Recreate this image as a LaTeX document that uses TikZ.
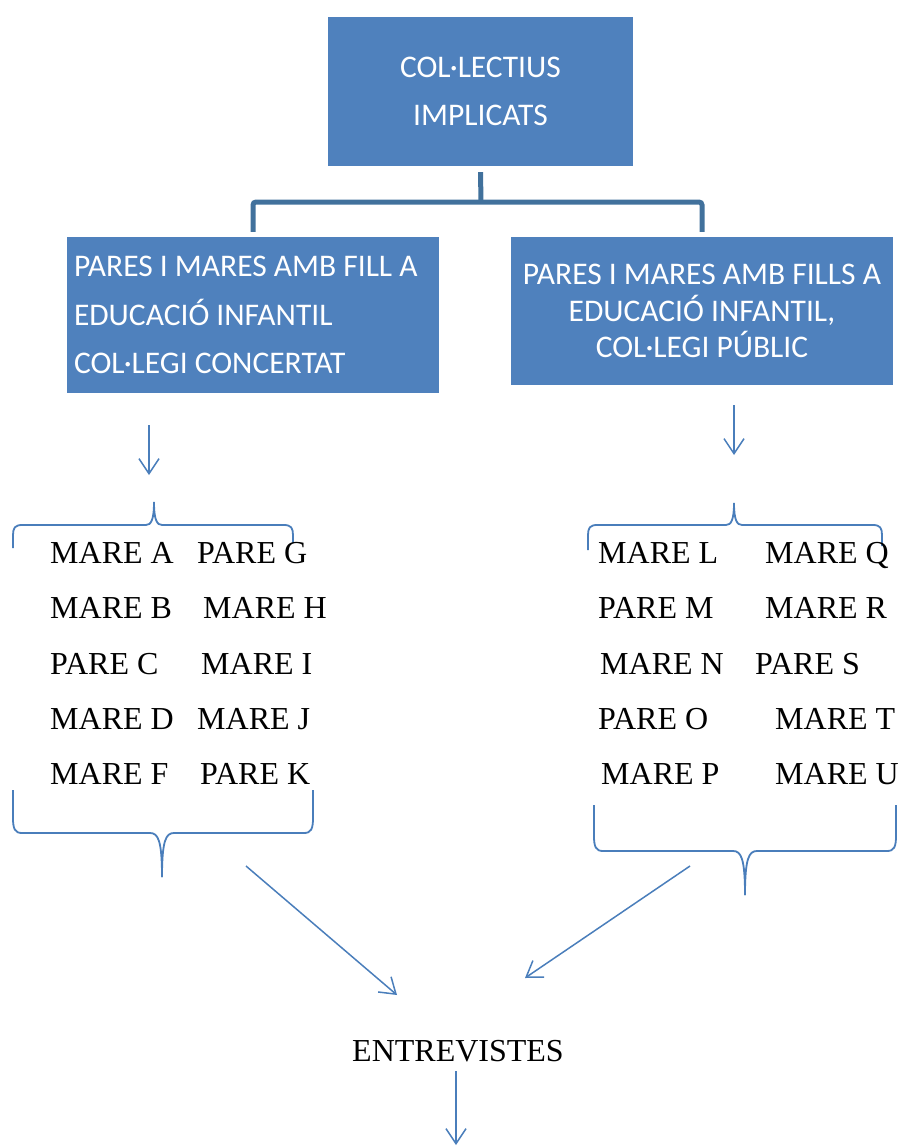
\documentclass[tikz,border=0pt]{standalone}
\usepackage{fontspec}
\setmainfont{Liberation Serif}
\newfontfamily\boxfont{Carlito}
\usetikzlibrary{arrows.meta}
\definecolor{boxblue}{HTML}{4F81BD}
\definecolor{linkblue}{HTML}{41719C}
\definecolor{arrowblue}{HTML}{4A7EBB}

\begin{document}
\begin{tikzpicture}[x=1pt, y=-1pt,
    box/.style={fill=boxblue, text=white, inner sep=0pt},
    conn/.style={draw=linkblue, line width=5pt, rounded corners=3pt},
    arr/.style={draw=arrowblue, line width=1.5pt, -{Straight Barb[length=15pt, width=20pt]}},
    brace/.style={draw=arrowblue, line width=1.8pt},
    item/.style={anchor=base west, inner sep=0pt, font=\fontsize{32}{38}\selectfont}]
    \useasboundingbox (0,0) rectangle (898,1146);

    % boxes
    \node[box, minimum width=305pt, minimum height=149pt, align=center,
          font=\boxfont\fontsize{31.5}{48}\selectfont] (top) at (480.5,91.5)
          {COL·LECTIUS\\IMPLICATS};
    \node[box, minimum width=372pt, minimum height=156pt] (lbox) at (253,315) {};
    \node[inner sep=0pt, text=white, anchor=west, align=left,
          font=\boxfont\fontsize{31.5}{48.3}\selectfont] (ltext) at ([xshift=7pt]lbox.west)
          {PARES I MARES AMB FILL A\\EDUCACIÓ INFANTIL\\COL·LEGI CONCERTAT};
    \node[box, minimum width=382pt, minimum height=148pt, align=center,
          font=\boxfont\fontsize{31.5}{36.5}\selectfont] (rbox) at (702,311)
          {PARES I MARES AMB FILLS A\\EDUCACIÓ INFANTIL,\\COL·LEGI PÚBLIC};

    % connector
    \coordinate (hub) at (481,202);
    \draw[conn] ([yshift=-6pt]top.south) -- (hub);
    \draw[conn] ([yshift=5pt]lbox.north) |- (hub) -| ([yshift=5pt]rbox.north);

    % arrows below the boxes
    \coordinate (la1) at (149,425);
    \coordinate (la2) at (149,475);
    \coordinate (ra1) at (734,405);
    \coordinate (ra2) at (734,455);
    \draw[arr] (la1) -- (la2);
    \draw[arr] (ra1) -- (ra2);

    % upper braces
    \draw[brace] (13,548) -- (13,535) .. controls (13,528) and (15,525) .. (22,525)
        -- (146,525) .. controls (151,525) and (154,520) .. (154,502)
        .. controls (154,520) and (157,525) .. (162,525)
        -- (284,525) .. controls (291,525) and (293,528) .. (293,535) -- (293,543);
    \draw[brace] (588,550) -- (588,535) .. controls (588,528) and (590,525) .. (597,525)
        -- (726,525) .. controls (731,525) and (734,520) .. (734,503)
        .. controls (734,520) and (737,525) .. (742,525)
        -- (873,525) .. controls (880,525) and (882,528) .. (882,535) -- (882,546);

    % left list
    \node[item] (mA) at (50,563) {MARE A};
    \node[item] (pG) at (197,563) {PARE G};
    \node[item] (mB) at (50,618) {MARE B};
    \node[item] (mH) at (203,618) {MARE H};
    \node[item] (pC) at (50,674) {PARE C};
    \node[item] (mI) at (201,674) {MARE I};
    \node[item] (mD) at (50,729) {MARE D};
    \node[item] (mJ) at (197,729) {MARE J};
    \node[item] (mF) at (50,784) {MARE F};
    \node[item] (pK) at (200,784) {PARE K};

    % right list
    \node[item] (mL) at (598,563) {MARE L};
    \node[item] (mQ) at (765,563) {MARE Q};
    \node[item] (pM) at (598,618) {PARE M};
    \node[item] (mR) at (765,618) {MARE R};
    \node[item] (mN) at (600,674) {MARE N};
    \node[item] (pS) at (755,674) {PARE S};
    \node[item] (pO) at (598,729) {PARE O};
    \node[item] (mT) at (775,729) {MARE T};
    \node[item] (mP) at (601,784) {MARE P};
    \node[item] (mU) at (775,784) {MARE U};

    % lower braces
    \draw[brace] (13,790) -- (13,818) .. controls (13,829) and (15,833) .. (22,833)
        -- (150,833) .. controls (158,833) and (162,840) .. (162,877);
    \draw[brace] (162,877) .. controls (162,840) and (166,833) .. (174,833)
        -- (304,833) .. controls (311,833) and (313,829) .. (313,818) -- (313,790);
    \draw[brace] (594,805) -- (594,836) .. controls (594,847) and (596,851) .. (603,851)
        -- (733,851) .. controls (741,851) and (745,858) .. (745,895);
    \draw[brace] (745,895) .. controls (745,858) and (749,851) .. (757,851)
        -- (887,851) .. controls (894,851) and (896,847) .. (896,836) -- (896,805);

    % arrows to the interviews
    \coordinate (lb1) at (246,866);
    \coordinate (lb2) at (397,995);
    \coordinate (rb1) at (690,866);
    \coordinate (rb2) at (525,978);
    \draw[arr] (lb1) -- (lb2);
    \draw[arr] (rb1) -- (rb2);

    \node[item, anchor=base] (entre) at (458,1061) {ENTREVISTES};
    \coordinate (down) at (456,1145);
    \draw[arr] ([xshift=-2pt, yshift=-10pt]entre.base) -- (down);
\end{tikzpicture}
\end{document}
